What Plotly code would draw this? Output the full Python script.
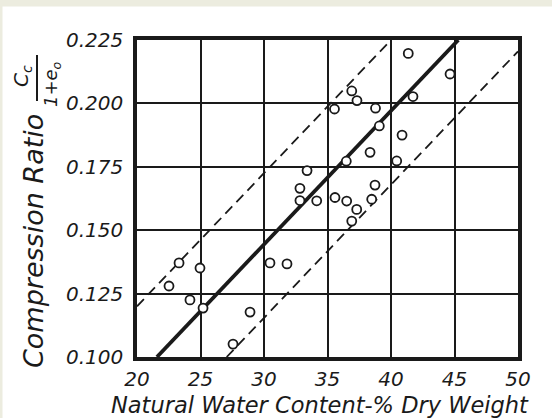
import plotly.graph_objects as go

# Data
water_content = [23.31, 24.96, 22.52, 24.17, 25.20, 28.90, 27.56, 30.47, 31.81,
                 33.39, 32.83, 32.83, 34.15, 35.59, 36.51, 37.30, 36.91, 38.48,
                 38.74, 36.48, 38.35, 40.45, 40.87, 39.08, 35.55, 38.78, 36.91,
                 37.32, 41.73, 44.65, 41.36]
compression_ratio = [0.1371, 0.1351, 0.1280, 0.1225, 0.1193, 0.1177, 0.1051, 0.1371, 0.1367,
                     0.1735, 0.1665, 0.1617, 0.1616, 0.1629, 0.1615, 0.1582, 0.1536, 0.1622,
                     0.1678, 0.1772, 0.1807, 0.1773, 0.1875, 0.1911, 0.1978, 0.1981, 0.2049,
                     0.2011, 0.2027, 0.2116, 0.2197]

# Trend line and envelope lines (end points)
fit_x = [21.57, 45.30]
fit_y = [0.100, 0.225]
upper_x = [20.0, 40.0]
upper_y = [0.120, 0.225]
lower_x = [27.06, 50.0]
lower_y = [0.100, 0.2205]

x_ticks = [20, 25, 30, 35, 40, 45, 50]
y_ticks = [0.100, 0.125, 0.150, 0.175, 0.200, 0.225]

INK = "#1a1a1a"
FONT = "DejaVu Sans"

fig = go.Figure()
fig.add_trace(go.Scatter(x=upper_x, y=upper_y, mode="lines",
                         line=dict(color=INK, width=1.8, dash="10px,6px"), hoverinfo="skip"))
fig.add_trace(go.Scatter(x=lower_x, y=lower_y, mode="lines",
                         line=dict(color=INK, width=1.8, dash="10px,6px"), hoverinfo="skip"))
fig.add_trace(go.Scatter(x=fit_x, y=fit_y, mode="lines",
                         line=dict(color=INK, width=3.8), hoverinfo="skip"))
fig.add_trace(go.Scatter(x=water_content, y=compression_ratio, mode="markers",
                         marker=dict(symbol="circle", size=9, color="white",
                                     line=dict(color=INK, width=1.8)),
                         cliponaxis=False))

L, R, T, B = 137, 34, 40, 61
W, H = 552, 418
pw, ph = W - L - R, H - T - B


def px(xp):
    return (xp - L) / pw


def py(yp):
    return (H - B - yp) / ph


tick_font = dict(family=FONT, size=20, color=INK, style="italic")

fig.update_layout(
    width=W, height=H, autosize=False,
    margin=dict(l=L, r=R, t=T, b=B, pad=0),
    paper_bgcolor="white", plot_bgcolor="white",
    showlegend=False,
    xaxis=dict(range=[20, 50], tickvals=x_ticks, ticktext=[str(v) for v in x_ticks],
               showgrid=True, gridcolor=INK, gridwidth=2.2,
               showline=True, linecolor=INK, linewidth=3.5, mirror=True,
               zeroline=False, ticks="", tickfont=tick_font, ticklabelstandoff=1),
    yaxis=dict(range=[0.100, 0.225], tickvals=y_ticks,
               ticktext=[f"{v:.3f}" for v in y_ticks],
               showgrid=True, gridcolor=INK, gridwidth=2.2,
               showline=True, linecolor=INK, linewidth=3.5, mirror=True,
               zeroline=False, ticks="", tickfont=tick_font, ticklabelstandoff=6),
    shapes=[
        # beige scan frame
        dict(type="rect", xref="paper", yref="paper", layer="below",
             x0=px(0), x1=px(W), y0=py(0), y1=py(6.5), line=dict(width=0), fillcolor="#ececdf"),
        dict(type="rect", xref="paper", yref="paper", layer="below",
             x0=px(0), x1=px(2.5), y0=py(0), y1=py(H), line=dict(width=0), fillcolor="#ececdf"),
        # fraction bar of Cc/(1+eo)
        dict(type="line", xref="paper", yref="paper",
             x0=px(37), x1=px(37), y0=py(55), y1=py(101), line=dict(color=INK, width=2)),
    ],
    annotations=[
        dict(text="Natural Water Content-% Dry Weight", xref="paper", yref="paper",
             x=px(320), y=py(404.5), xanchor="center", yanchor="middle", showarrow=False,
             font=dict(family=FONT, size=22.5, color=INK, style="italic")),
        dict(text="Compression Ratio", xref="paper", yref="paper", textangle=-90,
             x=px(33), y=py(241), xanchor="center", yanchor="middle", showarrow=False,
             font=dict(family=FONT, size=27, color=INK, style="italic")),
        dict(text="C<sub>c</sub>", xref="paper", yref="paper", textangle=-90,
             x=px(22), y=py(76), xanchor="center", yanchor="middle", showarrow=False,
             font=dict(family=FONT, size=20, color=INK, style="italic")),
        dict(text="1+e<sub>o</sub>", xref="paper", yref="paper", textangle=-90,
             x=px(52), y=py(84), xanchor="center", yanchor="middle", showarrow=False,
             font=dict(family=FONT, size=18, color=INK, style="italic")),
    ],
)

fig.write_html("out.html")
